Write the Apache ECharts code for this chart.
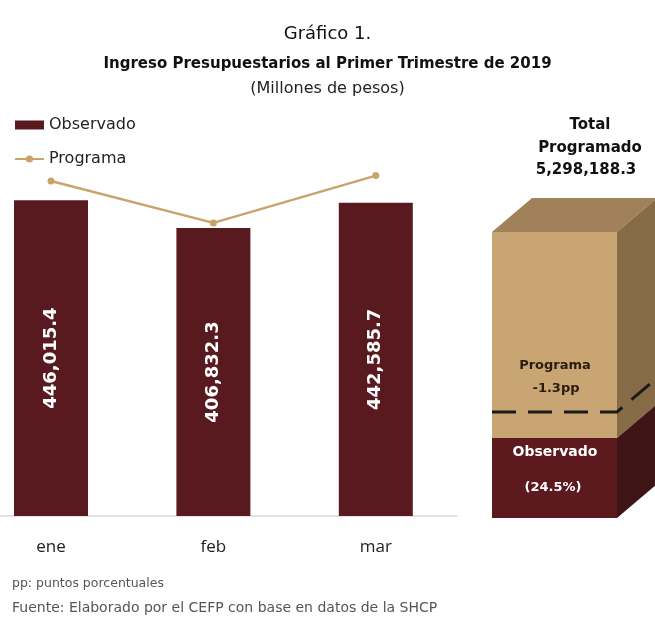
<!DOCTYPE html>
<html>
<head>
<meta charset="utf-8">
<script src="https://cdn.jsdelivr.net/npm/echarts@6/dist/echarts.min.js"></script>
<style>
	html, body { margin: 0; padding: 0; background: #fff; }
	#grafico { width: 655px; height: 619px; }
</style>
</head>
<body>
<div id="grafico"></div>
<script>
// datos del grafico (millones de pesos)
var meses = ['ene', 'feb', 'mar']
var observado = [446015.4, 406832.3, 442585.7]
var programa = [473200, 414000, 480800]
var totalProgramado = '5,298,188.3'
var pctObservado = '(24.5%)'
var difPrograma = '-1.3pp'

function formatoMiles(v) {
	return v.toLocaleString('en-US', { minimumFractionDigits: 1, maximumFractionDigits: 1 })
}

// pares [indice, valor] para el eje x numerico
function pares(arr) {
	var res = []
	for(var i = 0; i < arr.length; i ++) res.push([i, arr[i]])
	return res
}

var chart = echarts.init(document.getElementById('grafico'))

// caja 3D del lado derecho (ilustracion)
var caja = { x0: 492, x1: 617, top: 232, bottom: 518, obs: 438, dash: 412, dx: 40, dy: -34 }

function cajaGraficos() {
	var c = caja
	var g = []
	g.push({ type: 'polygon', shape: { points: [[c.x0, c.top], [c.x1, c.top], [c.x1 + c.dx, c.top + c.dy], [c.x0 + c.dx, c.top + c.dy]] }, style: { fill: '#a0815a' } })
	g.push({ type: 'polygon', shape: { points: [[c.x1, c.top], [c.x1 + c.dx, c.top + c.dy], [c.x1 + c.dx, c.obs + c.dy], [c.x1, c.obs]] }, style: { fill: '#876b47' } })
	g.push({ type: 'polygon', shape: { points: [[c.x1, c.obs], [c.x1 + c.dx, c.obs + c.dy], [c.x1 + c.dx, c.bottom + c.dy], [c.x1, c.bottom]] }, style: { fill: '#3f1417' } })
	g.push({ type: 'rect', shape: { x: c.x0, y: c.top, width: c.x1 - c.x0, height: c.obs - c.top }, style: { fill: '#c8a572' } })
	g.push({ type: 'rect', shape: { x: c.x0, y: c.obs, width: c.x1 - c.x0, height: c.bottom - c.obs }, style: { fill: '#5c1a1f' } })
	g.push({ type: 'polyline', shape: { points: [[c.x0, c.dash], [c.x1, c.dash], [c.x1 + c.dx, c.dash + c.dy]] }, style: { stroke: '#1a1a1a', lineWidth: 3, lineDash: [24, 12], fill: null } })
	var textos = [
		['Total', 590, 125, '#111', 15],
		['Programado', 590, 148, '#111', 15],
		[totalProgramado, 586, 170, '#111', 15],
		['Programa', 555, 366, '#2b1c10', 13],
		[difPrograma, 556, 389, '#2b1c10', 13],
		['Observado', 555, 452, '#fff', 14],
		[pctObservado, 553, 488, '#fff', 13]
	]
	for(var i = 0; i < textos.length; i ++) {
		var t = textos[i]
		g.push({ type: 'text', x: t[1], y: t[2], z: 10, style: { text: t[0], fill: t[3], font: 'bold ' + t[4] + 'px "DejaVu Sans"', textAlign: 'center', textVerticalAlign: 'middle' } })
	}
	return g
}

var option = {
	animation: false,
	backgroundColor: '#fff',
	title: [{
		text: 'Gráfico 1.',
		left: 'center',
		top: 20,
		textStyle: { fontFamily: 'DejaVu Sans', fontSize: 18, fontWeight: 'normal', color: '#111' }
	}, {
		text: 'Ingreso Presupuestarios al Primer Trimestre de 2019',
		left: 'center',
		top: 52,
		textStyle: { fontFamily: 'DejaVu Sans', fontSize: 15, fontWeight: 'bold', color: '#111' }
	}, {
		text: '(Millones de pesos)',
		left: 'center',
		top: 76,
		textStyle: { fontFamily: 'DejaVu Sans', fontSize: 16, fontWeight: 'normal', color: '#222' }
	}, {
		text: 'pp: puntos porcentuales',
		left: 7,
		top: 572,
		textStyle: { fontFamily: 'DejaVu Sans', fontSize: 12.5, fontWeight: 'normal', color: '#555' }
	}, {
		text: 'Fuente: Elaborado por el CEFP con base en datos de la SHCP',
		left: 7,
		top: 596,
		textStyle: { fontFamily: 'DejaVu Sans', fontSize: 14, fontWeight: 'normal', color: '#555' }
	}],
	legend: {
		orient: 'vertical',
		left: 9,
		top: 112,
		itemWidth: 29,
		itemHeight: 9,
		itemGap: 18,
		textStyle: { fontFamily: 'DejaVu Sans', fontSize: 16, color: '#222' },
		data: [{ name: 'Observado', icon: 'rect' }, { name: 'Programa' }]
	},
	grid: { left: 0, width: 457, top: 162, bottom: 103 },
	xAxis: {
		type: 'value',
		min: -0.314,
		max: 2.5,
		splitLine: { show: false },
		axisLine: { lineStyle: { color: '#d9d9d9', width: 1.5 } },
		axisTick: { show: false },
		axisLabel: {
			customValues: [0, 1, 2],
			margin: 23,
			fontFamily: 'Open Sans',
			fontSize: 17,
			color: '#222',
			formatter: function(v) { return meses[v] }
		}
	},
	yAxis: {
		type: 'value',
		min: 0,
		max: 500000,
		show: false,
		splitLine: { show: false }
	},
	series: [{
		name: 'Observado',
		type: 'bar',
		data: pares(observado),
		barWidth: 74,
		itemStyle: { color: '#581a1f' },
		label: {
			show: true,
			position: 'inside',
			rotate: 90,
			color: '#fff',
			fontFamily: 'DejaVu Sans',
			fontWeight: 'bold',
			fontSize: 18,
			formatter: function(p) { return formatoMiles(p.value[1]) }
		}
	}, {
		name: 'Programa',
		type: 'line',
		data: pares(programa),
		symbol: 'circle',
		symbolSize: 7,
		z: 5,
		lineStyle: { color: '#c9a46a', width: 2.5 },
		itemStyle: { color: '#c9a46a' }
	}],
	graphic: cajaGraficos()
}

chart.setOption(option)
</script>
</body>
</html>
